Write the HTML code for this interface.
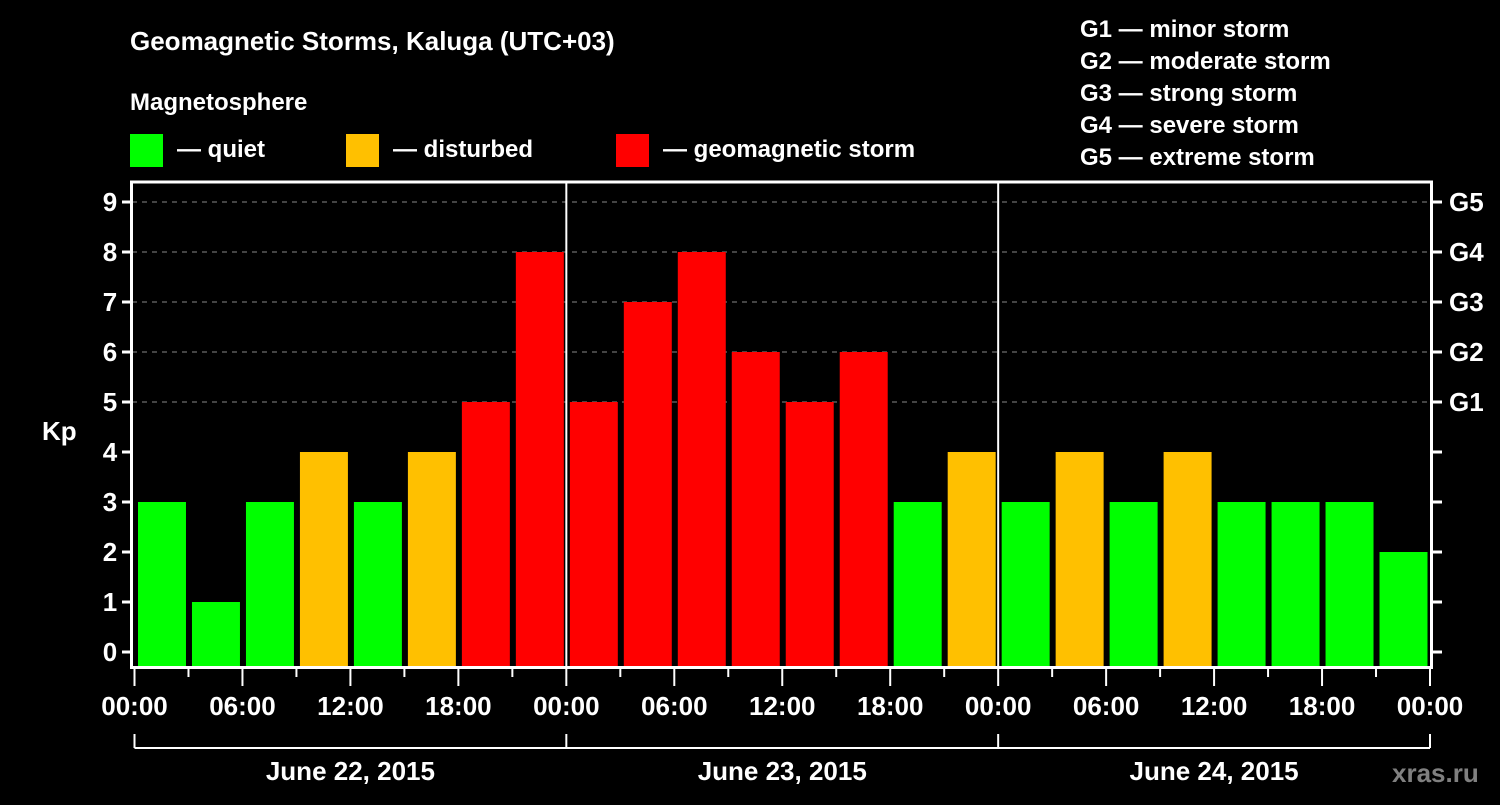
<!DOCTYPE html>
<html><head><meta charset="utf-8"><style>
body{margin:0;background:#000;width:1500px;height:800px;overflow:hidden}
svg text{font-family:"Liberation Sans",sans-serif;font-weight:bold;fill:#fff}
</style></head><body>
<svg id="c" width="1500" height="800">
<text x="130" y="50" font-size="26">Geomagnetic Storms, Kaluga (UTC+03)</text>
<text x="130" y="110" font-size="24">Magnetosphere</text>
<g>
<rect x="130" y="134" width="33" height="33" fill="#00ff00"/>
<text x="177" y="157" font-size="24">— quiet</text>
<rect x="346" y="134" width="33" height="33" fill="#ffc000"/>
<text x="393" y="157" font-size="24">— disturbed</text>
<rect x="616" y="134" width="33" height="33" fill="#ff0000"/>
<text x="663" y="157" font-size="24">— geomagnetic storm</text>
</g>
<g font-size="24">
<text x="1080" y="37">G1 — minor storm</text>
<text x="1080" y="69">G2 — moderate storm</text>
<text x="1080" y="101">G3 — strong storm</text>
<text x="1080" y="133">G4 — severe storm</text>
<text x="1080" y="165">G5 — extreme storm</text>
</g>
<text x="42" y="440" font-size="26">Kp</text>
<text x="1392" y="782" font-size="26" fill="#808080" style="fill:#808080">xras.ru</text>
</svg>
<script>
const kpValues=[3,1,3,4,3,4,5,8,5,7,8,6,5,6,3,4,3,4,3,4,3,3,3,2];
const yTicks=[0,1,2,3,4,5,6,7,8,9];
const gLabels=["G1","G2","G3","G4","G5"];
const gLevels=[5,6,7,8,9];
const xTickLabels=["00:00","06:00","12:00","18:00","00:00","06:00","12:00","18:00","00:00","06:00","12:00","18:00","00:00"];
const dayLabels=["June 22, 2015","June 23, 2015","June 24, 2015"];
const svg=document.getElementById('c');
const NS='http://www.w3.org/2000/svg';
const X0=134.5,X1=1430,T=182,B=667;
const x=h=>X0+(X1-X0)*h/72;
const y=v=>652-50*v;
function el(tag,a,p){const e=document.createElementNS(NS,tag);for(const k in a)e.setAttribute(k,a[k]);(p||svg).appendChild(e);return e;}
function col(v){return v>=5?'#ff0000':v>=4?'#ffc000':'#00ff00';}
// grid
gLevels.forEach(v=>{const l=el('line',{x1:132,x2:1432,y1:y(v),y2:y(v),stroke:'#888','stroke-dasharray':'5,5','stroke-width':1});

});
// bars
kpValues.forEach((v,i)=>{const r=el('rect',{x:x(i*3)+3.5,width:x(3)-X0-6,y:y(v),height:B-y(v),fill:col(v)});

});
// frame
const f=el('rect',{x:131.5,y:182,width:1300,height:485.5,fill:'none',stroke:'#fff','stroke-width':3});


[24,48].forEach(h=>{const l=el('line',{x1:x(h),x2:x(h),y1:T,y2:B,stroke:'#fff','stroke-width':2});

});
// y ticks
yTicks.forEach(v=>{el('line',{x1:122,x2:131,y1:y(v),y2:y(v),stroke:'#fff','stroke-width':3});
el('line',{x1:1432,x2:1442,y1:y(v),y2:y(v),stroke:'#fff','stroke-width':3});
const t=el('text',{x:110,y:y(v)+9,'font-size':26,'text-anchor':'middle'});t.textContent=v;

});
gLabels.forEach((g,i)=>{const t=el('text',{x:1449,y:y(gLevels[i])+9,'font-size':26});t.textContent=g;

});
// x ticks
for(let h=0;h<=72;h+=3){el('line',{x1:x(h),x2:x(h),y1:668,y2:h%6?677:686,stroke:'#fff','stroke-width':2});}
xTickLabels.forEach((s,i)=>{const t=el('text',{x:x(i*6),y:715,'font-size':26,'text-anchor':'middle'});t.textContent=s;

});
// day bracket
el('line',{x1:x(0),x2:x(72),y1:748,y2:748,stroke:'#fff','stroke-width':2});
[0,24,48,72].forEach(h=>el('line',{x1:x(h),x2:x(h),y1:734,y2:748,stroke:'#fff','stroke-width':2}));
dayLabels.forEach((s,i)=>{const t=el('text',{x:x(i*24+12),y:780,'font-size':26,'text-anchor':'middle'});t.textContent=s;

});
</script>
</body></html>
